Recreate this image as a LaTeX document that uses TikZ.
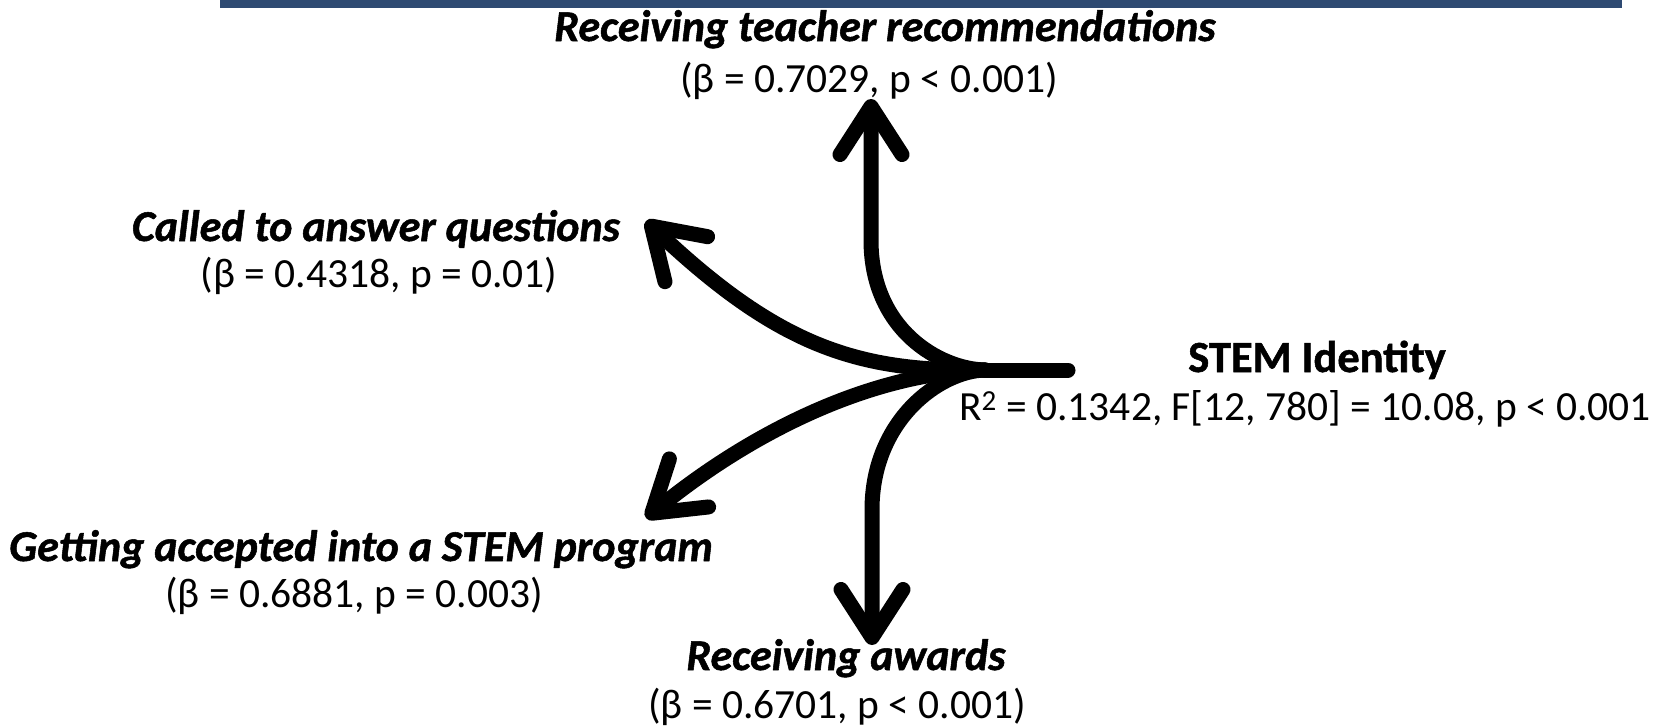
\documentclass[tikz,border=0pt]{standalone}
\usepackage{fontspec}
\setmainfont{Carlito}
\newfontfamily\heavyfont{Carlito}[BoldFeatures={FakeBold=1.2},BoldItalicFeatures={FakeBold=1.2}]
\usetikzlibrary{arrows.meta}
\definecolor{barblue}{RGB}{46,74,114}
\begin{document}
\begin{tikzpicture}[x=1pt,y=-1pt,
  lbl/.style={font=\fontsize{44}{44}\selectfont\heavyfont\bfseries\itshape, inner sep=0pt, anchor=base},
  stat/.style={font=\fontsize{41.5}{41.5}\selectfont, inner sep=0pt, anchor=base},
  head/.style={font=\fontsize{44.5}{44.5}\selectfont\heavyfont\bfseries, inner sep=0pt, anchor=base},
  flow/.style={line width=15pt, line cap=round, line join=round, -{Straight Barb[length=48pt,width=62pt,round]}},
  trunk/.style={line width=15pt, line cap=round},
]
\useasboundingbox (0,0) rectangle (1657,728);
\fill[barblue] (220,0) rectangle (1622,8);

\node[lbl]  (rtr)   at (885,41)  {Receiving teacher recommendations};
\node[stat] (rtrs)  at (869,92)  {(β = 0.7029, p < 0.001)};
\node[lbl]  (cq)    at (376,241) {Called to answer questions};
\node[stat] (cqs)   at (379,287) {(β = 0.4318, p = 0.01)};
\node[head] (stem)  at (1317,372) {STEM Identity};
\node[stat] (stems) at (1305,420) {R\textsuperscript{2} = 0.1342, F[12, 780] = 10.08, p < 0.001};
\node[lbl]  (acc)   at (361,561) {Getting accepted into a STEM program};
\node[stat] (accs)  at (354,607) {(β = 0.6881, p = 0.003)};
\node[lbl]  (aw)    at (846,670) {Receiving awards};
\node[stat] (aws)   at (837,718) {(β = 0.6701, p < 0.001)};

\coordinate (hub)  at (985,370);
\coordinate (tail) at (1068,370);
\coordinate (tipU) at (871,99);
\coordinate (tipC) at (646,221);
\coordinate (tipA) at (646,518);
\coordinate (tipD) at (872,645);

\draw[trunk] (hub) -- (tail);
\draw[flow] (hub) .. controls (940,369) and (871,330) .. (871,240) -- (tipU);
\draw[flow] (hub) .. controls (860,372) and (780,348) .. (tipC);
\draw[flow] (hub) .. controls (880,372) and (760,425) .. (tipA);
\draw[flow] (hub) .. controls (940,371) and (872,420) .. (872,510) -- (tipD);
\end{tikzpicture}
\end{document}
